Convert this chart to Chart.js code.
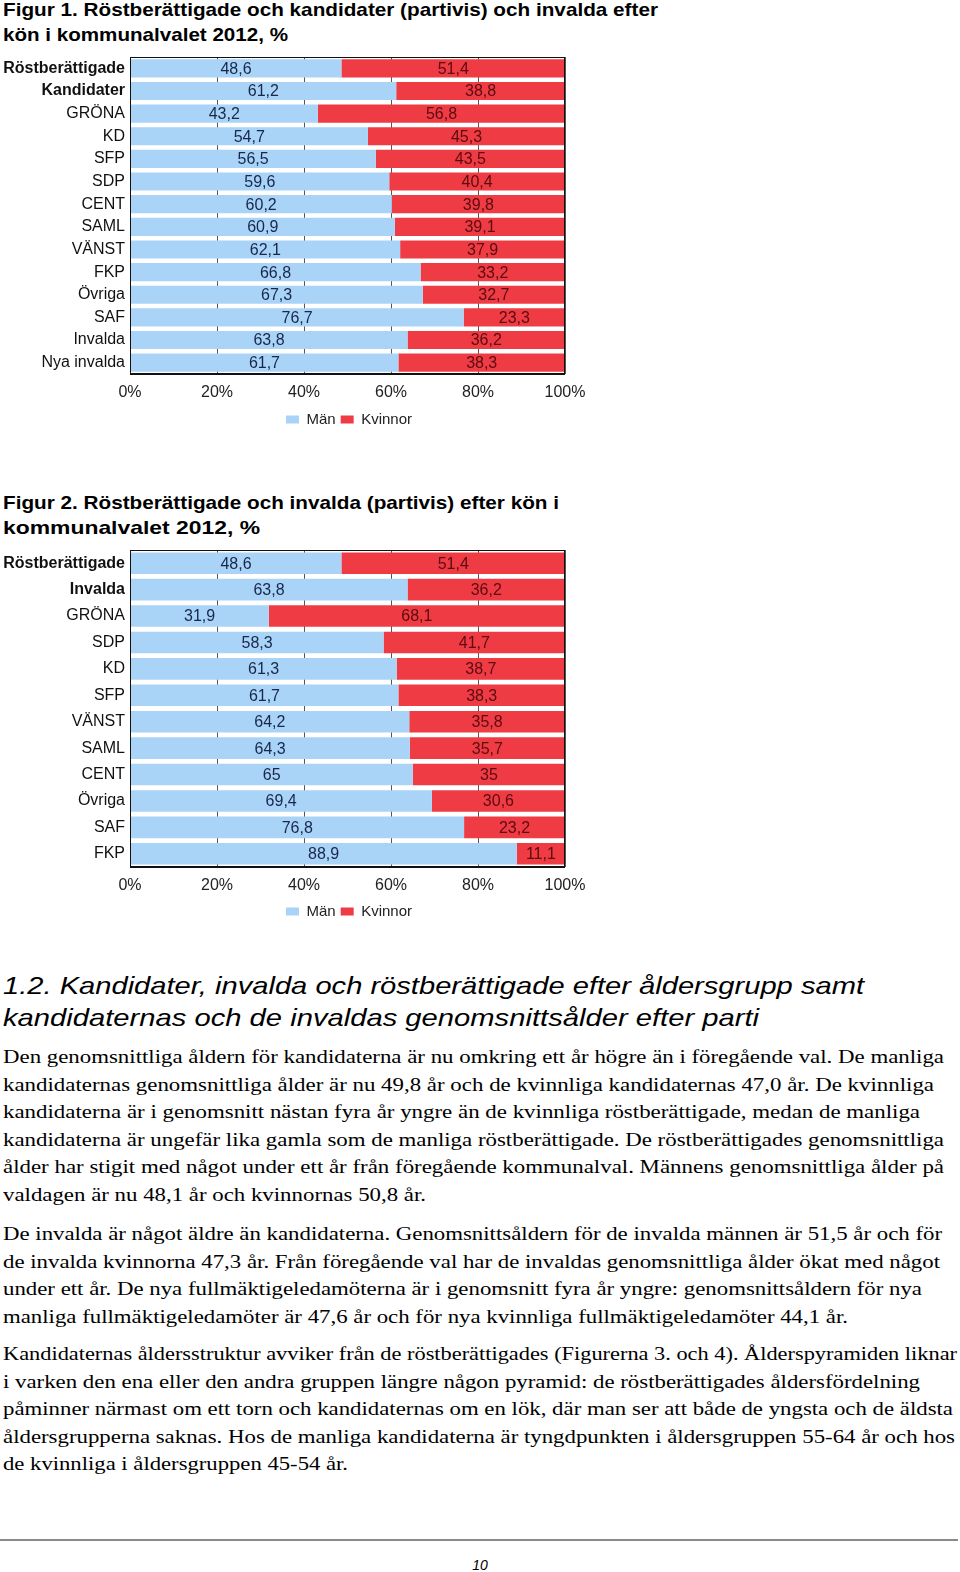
<!DOCTYPE html>
<html>
<head>
<meta charset="utf-8">
<script src="https://cdn.jsdelivr.net/npm/chart.js@4/dist/chart.umd.min.js"></script>
<style>
  html, body { margin: 0; padding: 0; background: #fff; }
  body { width: 960px; height: 1572px; position: relative; overflow: hidden; color: #000; }
  .blk { position: absolute; left: 3px; white-space: nowrap; }
  .blk > div { white-space: nowrap; display: block; transform-origin: 0 0; width: max-content; }
  .ftitle { font-family: "Liberation Sans", Arial, sans-serif; font-weight: bold; font-size: 19px; line-height: 24.5px; }
  .shead { font-family: "Liberation Sans", Arial, sans-serif; font-style: italic; font-size: 24px; line-height: 32px; }
  .body { font-family: "Liberation Serif", "Times New Roman", serif; font-size: 18.6px; line-height: 27.5px; }
  .chartbox { position: absolute; left: 0; width: 600px; height: 390px; }
  .rule { position: absolute; left: 0; top: 1539px; width: 958px; height: 0; border-top: 2px solid #8a8a8a; }
  .pnum { position: absolute; left: 0; width: 960px; top: 1557px; text-align: center; font-family: "Liberation Sans", Arial, sans-serif; font-style: italic; font-size: 14px; }
</style>
</head>
<body>

<div class="blk ftitle" style="top:-2px">
  <div data-w="655">Figur 1. Röstberättigade och kandidater (partivis) och invalda efter</div>
  <div data-w="285">kön i kommunalvalet 2012, %</div>
</div>
<div class="chartbox" style="top:50px"><canvas id="fig1"></canvas></div>

<div class="blk ftitle" style="top:491px">
  <div data-w="556">Figur 2. Röstberättigade och invalda (partivis) efter kön i</div>
  <div data-w="257">kommunalvalet 2012, %</div>
</div>
<div class="chartbox" style="top:543px"><canvas id="fig2"></canvas></div>

<div class="blk shead" style="top:970px">
  <div data-w="861">1.2. Kandidater, invalda och röstberättigade efter åldersgrupp samt</div>
  <div data-w="756">kandidaternas och de invaldas genomsnittsålder efter parti</div>
</div>

<div class="blk body" style="top:1043px">
  <div data-w="941">Den genomsnittliga åldern för kandidaterna är nu omkring ett år högre än i föregående val. De manliga</div>
  <div data-w="931">kandidaternas genomsnittliga ålder är nu 49,8 år och de kvinnliga kandidaternas 47,0 år. De kvinnliga</div>
  <div data-w="917">kandidaterna är i genomsnitt nästan fyra år yngre än de kvinnliga röstberättigade, medan de manliga</div>
  <div data-w="941">kandidaterna är ungefär lika gamla som de manliga röstberättigade. De röstberättigades genomsnittliga</div>
  <div data-w="941">ålder har stigit med något under ett år från föregående kommunalval. Männens genomsnittliga ålder på</div>
  <div data-w="423">valdagen är nu 48,1 år och kvinnornas 50,8 år.</div>
</div>

<div class="blk body" style="top:1220px">
  <div data-w="939">De invalda är något äldre än kandidaterna. Genomsnittsåldern för de invalda männen är 51,5 år och för</div>
  <div data-w="937">de invalda kvinnorna 47,3 år. Från föregående val har de invaldas genomsnittliga ålder ökat med något</div>
  <div data-w="919">under ett år. De nya fullmäktigeledamöterna är i genomsnitt fyra år yngre: genomsnittsåldern för nya</div>
  <div data-w="845">manliga fullmäktigeledamöter är 47,6 år och för nya kvinnliga fullmäktigeledamöter 44,1 år.</div>
</div>

<div class="blk body" style="top:1340px">
  <div data-w="954">Kandidaternas åldersstruktur avviker från de röstberättigades (Figurerna 3. och 4). Ålderspyramiden liknar</div>
  <div data-w="917">i varken den ena eller den andra gruppen längre någon pyramid: de röstberättigades åldersfördelning</div>
  <div data-w="950">påminner närmast om ett torn och kandidaternas om en lök, där man ser att både de yngsta och de äldsta</div>
  <div data-w="952">åldersgrupperna saknas. Hos de manliga kandidaterna är tyngdpunkten i åldersgruppen 55-64 år och hos</div>
  <div data-w="345">de kvinnliga i åldersgruppen 45-54 år.</div>
</div>

<div class="rule"></div>
<div class="pnum">10</div>

<script>
// ---- Data ----
const seriesNames = ['Män', 'Kvinnor'];
const xTickLabels = ['0%', '20%', '40%', '60%', '80%', '100%'];

const fig1Categories = ['Röstberättigade', 'Kandidater', 'GRÖNA', 'KD', 'SFP', 'SDP', 'CENT', 'SAML', 'VÄNST', 'FKP', 'Övriga', 'SAF', 'Invalda', 'Nya invalda'];
const fig1Man = [48.6, 61.2, 43.2, 54.7, 56.5, 59.6, 60.2, 60.9, 62.1, 66.8, 67.3, 76.7, 63.8, 61.7];
const fig1Kvinnor = [51.4, 38.8, 56.8, 45.3, 43.5, 40.4, 39.8, 39.1, 37.9, 33.2, 32.7, 23.3, 36.2, 38.3];
const fig1BoldRows = ['Röstberättigade', 'Kandidater'];

const fig2Categories = ['Röstberättigade', 'Invalda', 'GRÖNA', 'SDP', 'KD', 'SFP', 'VÄNST', 'SAML', 'CENT', 'Övriga', 'SAF', 'FKP'];
const fig2Man = [48.6, 63.8, 31.9, 58.3, 61.3, 61.7, 64.2, 64.3, 65, 69.4, 76.8, 88.9];
const fig2Kvinnor = [51.4, 36.2, 68.1, 41.7, 38.7, 38.3, 35.8, 35.7, 35, 30.6, 23.2, 11.1];
const fig2BoldRows = ['Röstberättigade', 'Invalda'];

// ---- Styles ----
const FONT = '"Liberation Sans", Arial, sans-serif';
const BLUE = '#a9d3f7';
const RED = '#ef3b43';
const BLUE_TXT = '#17284a';
const RED_TXT = '#5a0b10';

// fit text lines horizontally to their target widths
document.querySelectorAll('.blk > div').forEach(d => {
  const w = parseFloat(d.dataset.w);
  const nat = d.getBoundingClientRect().width;
  if (w && nat) d.style.transform = 'scaleX(' + (w / nat) + ')';
});

const valueLabels = {
  id: 'valueLabels',
  afterLayout(chart, args, opts) {
    const L = chart.legend;
    if (!L) return;
    const h = L.height;
    L.left = opts.legendLeft;
    L.right = opts.legendLeft + 300;
    L.top = opts.legendCenter - 13;
    L.bottom = L.top + h;
  },
  afterDatasetsDraw(chart) {
    const ctx = chart.ctx;
    ctx.save();
    ctx.font = '16px ' + FONT;
    ctx.textAlign = 'center';
    ctx.textBaseline = 'middle';
    chart.data.datasets.forEach((ds, di) => {
      const meta = chart.getDatasetMeta(di);
      meta.data.forEach((el, i) => {
        const p = el.getProps(['x', 'base', 'y'], true);
        ctx.fillStyle = ds.labelColor;
        ctx.fillText(String(ds.data[i]).replace('.', ','), (p.x + p.base) / 2, p.y + 1);
      });
    });
    const a = chart.chartArea;
    ctx.fillStyle = '#111';
    ctx.fillRect(a.left, a.top, a.right - a.left, 1);
    ctx.fillRect(a.left, a.top, 1, a.bottom - a.top);
    ctx.fillRect(a.right - 1, a.top, 1, a.bottom - a.top);
    ctx.fillRect(a.left, a.bottom - 1, a.right - a.left, 2);
    ctx.restore();
  }
};

// plot area: top 7px, bottom 324px inside the 390px canvas
function makeChart(id, cats, man, kvinnor, boldRows, barPct, legendCenter) {
  return new Chart(document.getElementById(id), {
    type: 'bar',
    data: {
      labels: cats,
      datasets: [
        { label: seriesNames[0], data: man, backgroundColor: BLUE, borderWidth: 0, labelColor: BLUE_TXT,
          barPercentage: barPct, categoryPercentage: 1 },
        { label: seriesNames[1], data: kvinnor, backgroundColor: RED, borderWidth: 0, labelColor: RED_TXT,
          barPercentage: barPct, categoryPercentage: 1 }
      ]
    },
    options: {
      indexAxis: 'y',
      responsive: true,
      maintainAspectRatio: false,
      animation: false,
      layout: { padding: { top: 7, right: 35, left: 0, bottom: 0 } },
      plugins: {
        legend: {
          position: 'bottom',
          align: 'start',
          labels: { boxWidth: 13, boxHeight: 8, padding: 5, color: '#222', font: { family: FONT, size: 15 } }
        },
        tooltip: { enabled: false },
        valueLabels: { legendLeft: 281, legendCenter: legendCenter }
      },
      scales: {
        x: {
          stacked: true, min: 0, max: 100,
          grid: { color: '#555', lineWidth: 1, drawTicks: false },
          border: { display: false },
          ticks: { stepSize: 20, padding: 9, color: '#222', font: { family: FONT, size: 16 },
                   callback: (v, i) => xTickLabels[i] },
          afterFit: s => {
            const lh = s.chart.legend ? s.chart.legend.height : 31;
            s.height = Math.max(10, 390 - 324 - lh);
          }
        },
        y: {
          stacked: true,
          grid: { display: false, drawTicks: false },
          border: { display: false },
          ticks: { padding: 5, autoSkip: false, color: '#111',
                   font: c => ({ family: FONT, size: 16, weight: boldRows.includes(cats[c.index]) ? 'bold' : 'normal' }) },
          afterFit: s => { s.width = 130; s.paddingTop = 0; s.paddingBottom = 0; }
        }
      }
    },
    plugins: [valueLabels]
  });
}

makeChart('fig1', fig1Categories, fig1Man, fig1Kvinnor, fig1BoldRows, 0.8, 370);
makeChart('fig2', fig2Categories, fig2Man, fig2Kvinnor, fig2BoldRows, 0.82, 369);
</script>
</body>
</html>
